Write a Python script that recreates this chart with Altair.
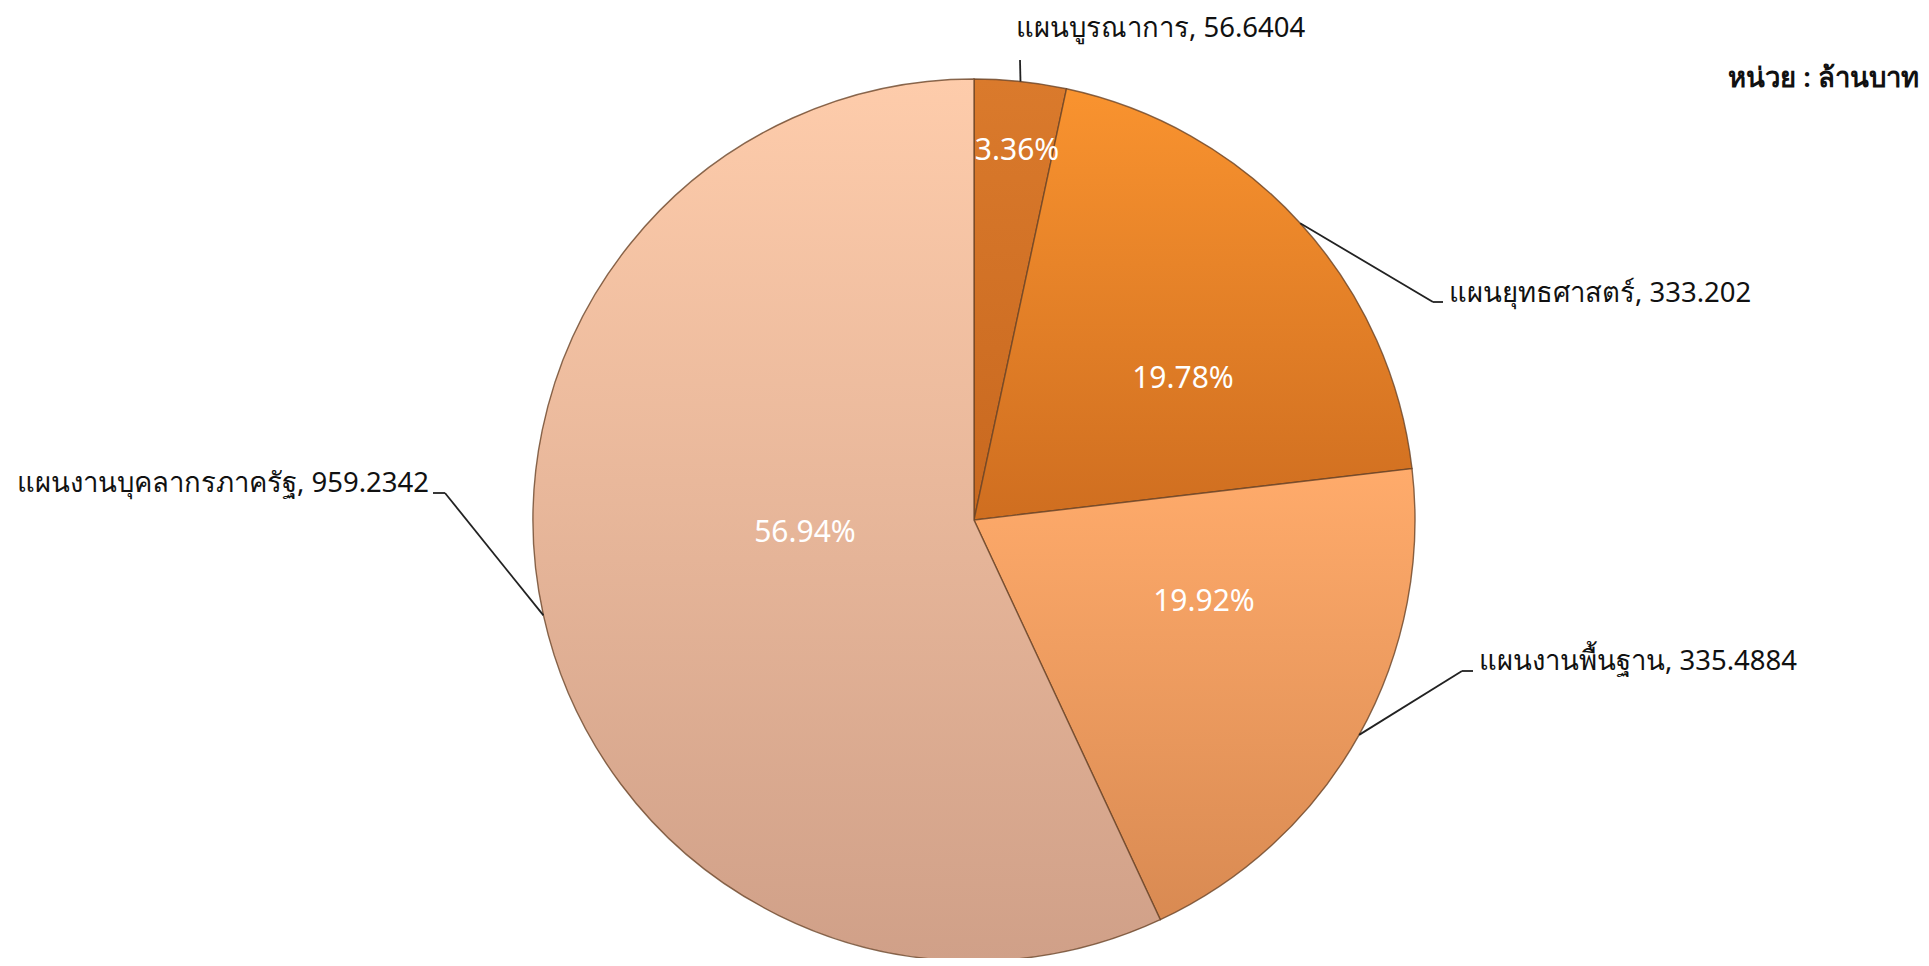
import altair as alt
import pandas as pd

# ---- data ----
categories = ["แผนบูรณาการ", "แผนยุทธศาสตร์", "แผนงานพื้นฐาน", "แผนงานบุคลากรภาครัฐ"]
values = [56.6404, 333.202, 335.4884, 959.2342]
value_labels = ["56.6404", "333.202", "335.4884", "959.2342"]
unit_text = "หน่วย : ล้านบาท"

df = pd.DataFrame({
    "cat": categories,
    "value": values,
    "vlab": value_labels,
    "idx": list(range(len(categories))),
})

# ---- layout / style ----
W, H = 1913, 950
CX, CY, R = 966, 512, 441
FONT = "Tahoma, 'Noto Sans', 'DejaVu Sans', sans-serif"

gradients = [
    ("#DA7A2C", "#C8681F"),
    ("#F9932F", "#CF6E20"),
    ("#FFAB6B", "#D98A52"),
    ("#FECCAB", "#D0A088"),
]
pct_pos = [(1009, 143), (1175, 371), (1196, 594), (797, 525)]
name_pos = [(1008, 21), (1441, 286), (1471, 654), (9, 476)]
name_align = ["left", "left", "left", "left"]
# elbow point and end of short horizontal segment for each leader line
leaders = [(1012, 52, 1012), (1425, 294, 1435), (1454, 663, 1465), (437, 485, 425)]

base = (
    alt.Chart(df)
    .transform_joinaggregate(total="sum(value)")
    .transform_window(cum="sum(value)", sort=[alt.SortField("idx")], frame=[None, 0])
    .transform_calculate(
        a0="2*PI*(datum.cum-datum.value)/datum.total",
        a1="2*PI*datum.cum/datum.total",
        pct="format(datum.value/datum.total, '.2%')",
        lab="datum.cat + ', ' + datum.vlab",
    )
    .transform_calculate(mid="(datum.a0+datum.a1)/2")
    .transform_calculate(
        sx=f"{CX} + {R}*sin(datum.mid)",
        sy=f"{CY} - {R}*cos(datum.mid)",
    )
)

layers = []
for i in range(len(categories)):
    top, bot = gradients[i]
    g = alt.LinearGradient(
        gradient="linear",
        stops=[alt.GradientStop(color=top, offset=0), alt.GradientStop(color=bot, offset=1)],
        x1=0, x2=0, y1=0, y2=1,
    )
    sub = base.transform_filter(alt.datum.idx == i)
    layers.append(
        sub.mark_arc(outerRadius=R, fill=g, stroke="#6a4327", strokeWidth=1.4, strokeOpacity=0.8)
        .encode(
            theta=alt.Theta("a0:Q", scale=None),
            theta2=alt.Theta2("a1:Q"),
            x=alt.value(CX),
            y=alt.value(CY),
        )
    )

for i in range(len(categories)):
    sub = base.transform_filter(alt.datum.idx == i)
    ex, ey, hx = leaders[i]
    layers.append(
        sub.mark_rule(color="#222222", strokeWidth=1.8).encode(
            x=alt.X("sx:Q", scale=None),
            y=alt.Y("sy:Q", scale=None),
            x2=alt.value(ex),
            y2=alt.value(ey),
        )
    )
    if hx != ex:
        layers.append(
            sub.mark_rule(color="#222222", strokeWidth=1.8).encode(
                x=alt.value(ex), x2=alt.value(hx), y=alt.value(ey)
            )
        )
    px, py = pct_pos[i]
    layers.append(
        sub.mark_text(color="white", fontSize=30, font=FONT, align="center", baseline="middle").encode(
            x=alt.value(px), y=alt.value(py), text=alt.Text("pct:N")
        )
    )
    nx, ny = name_pos[i]
    layers.append(
        sub.mark_text(color="#111111", fontSize=27.5, font=FONT, align=name_align[i], baseline="middle").encode(
            x=alt.value(nx), y=alt.value(ny), text=alt.Text("lab:N")
        )
    )

unit = (
    alt.Chart(pd.DataFrame({"t": [unit_text]}))
    .mark_text(color="#111111", fontSize=27.5, fontWeight=600, font=FONT, align="right", baseline="middle")
    .encode(x=alt.value(1911), y=alt.value(71), text="t:N")
)
layers.append(unit)

chart = (
    alt.layer(*layers)
    .properties(width=W, height=H, padding=0, autosize=alt.AutoSizeParams(type="none"))
    .configure_view(stroke=None)
)

chart.save("out.html", embed_options={"renderer": "svg", "actions": False})
